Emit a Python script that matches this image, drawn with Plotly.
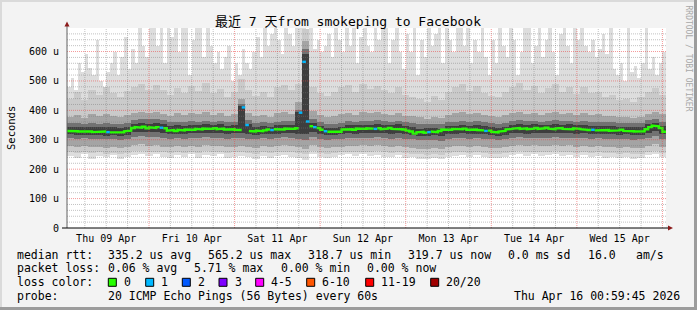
import pandas as pd
import plotly.graph_objects as go

# ---------------- data ----------------
START = pd.Timestamp("2026-04-09 01:00:00")
END = pd.Timestamp("2026-04-16 01:00:00")
HOUR = pd.Timedelta(hours=1)

day_noons = ["2026-04-09 12:00", "2026-04-10 12:00", "2026-04-11 12:00", "2026-04-12 12:00",
             "2026-04-13 12:00", "2026-04-14 12:00", "2026-04-15 12:00"]
day_labels = ["Thu 09 Apr", "Fri 10 Apr", "Sat 11 Apr", "Sun 12 Apr",
              "Mon 13 Apr", "Tue 14 Apr", "Wed 15 Apr"]

y_tick_vals = [0, 100, 200, 300, 400, 500, 600]
y_tick_text = ["0", "100 u", "200 u", "300 u", "400 u", "500 u", "600 u"]

# hourly median rtt (microseconds)
rtt_median = [
    330, 331, 329, 328, 327, 329, 328, 326, 327, 326, 328, 326, 325, 324, 326, 325, 329, 331, 340, 343, 341, 344, 339, 342,
    340, 343, 341, 339, 331, 333, 330, 334, 332, 335, 336, 334, 337, 335, 338, 336, 337, 339, 336, 338, 335, 337, 336, 334,
    333, 410, 350, 330, 328, 331, 329, 332, 335, 333, 336, 337, 335, 338, 336, 337, 339, 392, 565, 362, 346, 343, 340, 334,
    329, 327, 326, 328, 327, 335, 337, 336, 334, 338, 336, 337, 339, 338, 337, 339, 336, 338, 340, 337, 338, 336, 335, 331,
    328, 321, 325, 327, 324, 326, 328, 326, 330, 335, 336, 334, 337, 335, 336, 338, 334, 336, 335, 333, 332, 330, 331, 327,
    325, 328, 330, 335, 337, 338, 340, 337, 339, 336, 338, 340, 337, 339, 341, 338, 336, 339, 340, 337, 338, 336, 339, 337,
    336, 334, 333, 334, 332, 333, 334, 333, 331, 333, 332, 334, 330, 331, 329, 328, 330, 329, 336, 343, 348, 346, 340, 327,
]

# hourly maximum rtt (top of the light smoke)
rtt_max = [
    480, 510, 470, 560, 530, 590, 545, 520, 640, 500, 480, 530, 560, 600, 520, 580, 650, 540, 610, 560, 700, 620, 580, 700,
    700, 620, 700, 560, 700, 650, 700, 600, 680, 700, 520, 640, 700, 690, 580, 700, 620, 560, 600, 540, 580, 620, 500, 560,
    520, 610, 560, 540, 600, 650, 580, 700, 620, 660, 700, 640, 590, 700, 660, 620, 700, 700, 700, 650, 690, 610, 640, 600,
    620, 660, 580, 700, 640, 600, 680, 620, 700, 560, 650, 700, 620, 600, 700, 640, 680, 700, 560, 640, 700, 600, 540, 660,
    600, 700, 520, 640, 580, 700, 620, 660, 700, 560, 700, 640, 600, 700, 680, 620, 700, 560, 640, 600, 700, 580, 520, 640,
    560, 700, 620, 580, 700, 640, 520, 600, 680, 700, 560, 620, 700, 580, 640, 700, 600, 520, 660, 700, 620, 560, 700, 640,
    700, 620, 600, 640, 580, 610, 660, 590, 700, 540, 520, 560, 500, 700, 530, 550, 510, 560, 700, 540, 580, 520, 560, 600,
]

# hourly lost pings (of 20)
loss_pings = [
    0, 0, 0, 0, 0, 0, 0, 0, 0, 0, 0, 1, 0, 0, 0, 0, 0, 0, 0, 0, 0, 0, 0, 0,
    0, 0, 1, 0, 0, 0, 0, 0, 0, 0, 0, 0, 0, 0, 0, 0, 0, 0, 0, 0, 0, 0, 0, 0,
    0, 1, 1, 0, 0, 0, 0, 0, 0, 1, 0, 0, 0, 0, 0, 0, 0, 1, 1, 1, 0, 1, 0, 0,
    1, 0, 0, 0, 0, 0, 0, 0, 0, 0, 0, 0, 0, 0, 1, 0, 0, 0, 0, 0, 0, 0, 0, 0,
    0, 0, 0, 0, 0, 1, 0, 0, 0, 0, 0, 0, 0, 0, 0, 0, 0, 0, 0, 0, 0, 1, 0, 0,
    0, 0, 0, 0, 0, 0, 0, 0, 0, 0, 0, 0, 0, 0, 0, 0, 0, 0, 0, 0, 0, 0, 0, 0,
    0, 0, 0, 1, 0, 0, 0, 0, 0, 0, 0, 0, 0, 0, 0, 0, 0, 0, 0, 0, 0, 0, 0, 0,
]

# 2-hourly smoke percentiles
rtt_min = [
    246, 238, 250, 236, 244, 240, 247, 234, 242, 249, 252, 245,
    250, 243, 237, 248, 241, 251, 239, 247, 244, 250, 238, 242,
    245, 240, 236, 246, 238, 244, 249, 241, 239, 232, 251, 240,
    238, 242, 247, 250, 244, 251, 246, 249, 243, 240, 248, 239,
    240, 236, 233, 239, 235, 242, 246, 249, 243, 247, 241, 238,
    237, 243, 248, 251, 245, 250, 246, 248, 251, 244, 249, 242,
    248, 241, 245, 239, 243, 237, 240, 235, 239, 247, 252, 242,
]
rtt_p05 = [
    258, 255, 260, 254, 257, 252, 256, 253, 255, 261, 263, 259,
    260, 257, 254, 258, 256, 259, 256, 261, 257, 259, 255, 257,
    258, 256, 253, 257, 254, 258, 260, 257, 255, 250, 262, 255,
    252, 254, 257, 259, 257, 260, 258, 261, 257, 255, 259, 255,
    253, 250, 248, 252, 249, 254, 257, 259, 256, 258, 255, 253,
    251, 255, 258, 261, 257, 260, 258, 259, 261, 258, 260, 256,
    259, 256, 257, 255, 256, 253, 254, 251, 253, 258, 263, 256,
]
rtt_p20 = [
    278, 275, 280, 274, 277, 272, 276, 273, 275, 282, 284, 280,
    281, 277, 274, 279, 276, 280, 277, 282, 278, 280, 275, 277,
    279, 276, 273, 278, 274, 279, 281, 278, 276, 270, 283, 275,
    272, 274, 277, 280, 278, 281, 279, 282, 278, 276, 280, 275,
    273, 270, 268, 272, 269, 274, 278, 280, 277, 279, 276, 273,
    271, 275, 279, 282, 278, 281, 279, 280, 282, 279, 281, 277,
    280, 276, 278, 275, 277, 273, 274, 271, 273, 279, 285, 276,
]
rtt_p35 = [
    305, 303, 306, 302, 304, 301, 303, 300, 302, 310, 312, 309,
    308, 305, 303, 306, 304, 307, 305, 308, 306, 307, 304, 305,
    306, 304, 302, 305, 303, 306, 308, 306, 304, 300, 310, 303,
    300, 301, 304, 306, 305, 307, 306, 308, 305, 304, 306, 303,
    301, 299, 298, 300, 297, 302, 305, 306, 304, 305, 303, 301,
    299, 302, 306, 308, 305, 307, 306, 307, 308, 306, 307, 305,
    306, 304, 305, 303, 304, 301, 302, 300, 301, 306, 312, 304,
]
rtt_p45 = [
    318, 316, 317, 315, 316, 314, 316, 313, 316, 325, 328, 326,
    326, 323, 318, 321, 320, 323, 322, 324, 323, 324, 321, 322,
    322, 319, 317, 320, 318, 321, 323, 322, 320, 318, 326, 318,
    315, 316, 319, 322, 321, 323, 322, 324, 322, 321, 323, 319,
    316, 312, 313, 315, 312, 318, 320, 322, 319, 321, 318, 315,
    313, 317, 322, 324, 321, 323, 322, 323, 324, 322, 323, 321,
    322, 320, 321, 319, 320, 317, 318, 316, 317, 322, 330, 318,
]
rtt_p55 = [
    344, 345, 342, 344, 342, 343, 342, 340, 345, 354, 356, 355,
    356, 352, 346, 349, 347, 350, 349, 352, 350, 352, 348, 349,
    415, 355, 345, 347, 344, 349, 351, 350, 395, 590, 357, 348,
    341, 341, 345, 350, 349, 351, 350, 353, 351, 349, 352, 347,
    342, 338, 339, 341, 338, 346, 348, 351, 347, 350, 346, 344,
    341, 345, 350, 352, 349, 352, 349, 351, 353, 350, 352, 349,
    351, 347, 348, 346, 347, 344, 345, 343, 344, 352, 358, 347,
]
rtt_p65 = [
    356, 358, 354, 357, 355, 356, 355, 353, 358, 368, 371, 369,
    370, 366, 360, 362, 359, 363, 361, 364, 362, 365, 360, 362,
    420, 368, 358, 360, 357, 362, 364, 363, 400, 610, 372, 362,
    355, 354, 358, 364, 362, 365, 363, 366, 364, 362, 365, 360,
    356, 354, 352, 355, 353, 360, 362, 364, 361, 363, 360, 358,
    355, 358, 364, 366, 363, 365, 362, 364, 366, 363, 365, 362,
    364, 360, 361, 359, 360, 357, 358, 356, 357, 366, 372, 362,
]
rtt_p80 = [
    378, 384, 375, 386, 380, 388, 382, 377, 384, 392, 396, 390,
    394, 388, 382, 390, 384, 392, 386, 396, 384, 390, 382, 386,
    440, 392, 380, 384, 378, 390, 394, 388, 430, 635, 398, 384,
    378, 382, 388, 392, 384, 396, 390, 394, 388, 384, 392, 382,
    380, 376, 372, 378, 374, 384, 390, 394, 386, 390, 384, 380,
    378, 384, 390, 396, 388, 392, 384, 390, 396, 386, 392, 384,
    392, 384, 386, 380, 382, 376, 378, 374, 378, 388, 396, 386,
]
rtt_p95 = [
    440, 462, 436, 470, 452, 478, 458, 444, 466, 480, 490, 470,
    486, 470, 452, 476, 460, 482, 466, 494, 458, 474, 446, 462,
    505, 470, 448, 462, 444, 478, 486, 470, 490, 675, 480, 458,
    450, 462, 478, 486, 464, 490, 472, 484, 470, 458, 480, 452,
    446, 440, 430, 448, 436, 462, 478, 488, 466, 482, 460, 448,
    444, 462, 480, 492, 470, 484, 458, 476, 490, 462, 480, 454,
    478, 458, 464, 446, 452, 436, 440, 430, 444, 462, 476, 452,
]

loss_colors = {0: "#26ff00", 1: "#00b8ff"}
legend_items = [("0", "#26ff00"), ("1", "#00b8ff"), ("2", "#0059ff"), ("3", "#7e00ff"),
                ("4-5", "#ff00ff"), ("6-10", "#ff5500"), ("11-19", "#ff0000"), ("20/20", "#a10000")]

# ---------------- geometry helpers ----------------
L, T, W, H = 67, 28, 599, 200
FIG_W, FIG_H = 697, 310
BG = "#f3f3f3"
MONO = "DejaVu Sans Mono, Noto Sans CJK SC, monospace"


def fx(px):
    return (px - L) / W


def fy(py):
    return (T + H - py) / H


fig = go.Figure()

# ---------------- smoke ----------------
n_h = len(rtt_max)
hour_centers = [START + (i + 0.5) * HOUR for i in range(n_h)]
fig.add_trace(go.Bar(
    x=hour_centers,
    base=[rtt_min[i // 2] for i in range(n_h)],
    y=[rtt_max[i] - rtt_min[i // 2] for i in range(n_h)],
    width=3600000, marker=dict(color="#dddddd", line=dict(width=0)),
    hoverinfo="skip"))

n_2 = len(rtt_min)
two_centers = [START + (2 * j + 1) * HOUR for j in range(n_2)]
for lo, hi, col in [(rtt_p05, rtt_p95, "#cacaca"),
                    (rtt_p20, rtt_p80, "#a4a4a4"),
                    (rtt_p35, rtt_p65, "#727272"),
                    (rtt_p45, rtt_p55, "#3e3e3e")]:
    fig.add_trace(go.Bar(
        x=two_centers, base=lo, y=[h - l for l, h in zip(lo, hi)],
        width=7200000, marker=dict(color=col, line=dict(width=0)),
        hoverinfo="skip"))

# ---------------- median line coloured by loss ----------------
for lvl, col in loss_colors.items():
    xs, ys = [], []
    prev = False
    for i in range(n_h):
        if loss_pings[i] == lvl:
            xs += [START + i * HOUR, START + (i + 1) * HOUR]
            ys += [rtt_median[i], rtt_median[i]]
            prev = True
            if lvl != 0:          # loss marks are drawn as separate steps
                xs.append(None)
                ys.append(None)
                prev = False
        elif prev:
            xs.append(None)
            ys.append(None)
            prev = False
    fig.add_trace(go.Scatter(x=xs, y=ys, mode="lines", line=dict(color=col, width=2.4),
                             connectgaps=False, hoverinfo="skip"))

# ---------------- grid (drawn above the smoke, like rrdtool) ----------------
shapes = []
t = START.ceil("6h")
while t < END:
    major = t.hour == 0
    shapes.append(dict(type="line", xref="x", yref="paper", x0=t, x1=t, y0=0, y1=1, layer="above",
                       line=dict(color="rgba(235,70,70,0.55)" if major else "rgba(120,120,120,0.45)",
                                 width=1, dash="1px,1px")))
    t += pd.Timedelta(hours=6)
for v in range(20, 680, 20):
    major = v % 100 == 0
    shapes.append(dict(type="line", xref="paper", yref="y", x0=0, x1=1, y0=v, y1=v, layer="above",
                       line=dict(color="rgba(235,70,70,0.55)" if major else "rgba(120,120,120,0.45)",
                                 width=1, dash="1px,1px")))

# axes lines + arrows
shapes.append(dict(type="line", xref="paper", yref="paper", x0=fx(67), x1=fx(67), y0=fy(228), y1=fy(24),
                   line=dict(color="#606060", width=1), layer="above"))
shapes.append(dict(type="line", xref="paper", yref="paper", x0=fx(62), x1=fx(669), y0=fy(228), y1=fy(228),
                   line=dict(color="#000000", width=1), layer="above"))
shapes.append(dict(type="path", xref="paper", yref="paper", layer="above",
                   path=f"M {fx(64.5)} {fy(26.5)} L {fx(69.5)} {fy(26.5)} L {fx(67)} {fy(21.5)} Z",
                   fillcolor="#8b1a1a", line=dict(width=0)))
shapes.append(dict(type="path", xref="paper", yref="paper", layer="above",
                   path=f"M {fx(668)} {fy(225.5)} L {fx(668)} {fy(230.5)} L {fx(673)} {fy(228)} Z",
                   fillcolor="#8b1a1a", line=dict(width=0)))

# 3-D frame around the image
shapes.append(dict(type="rect", xref="paper", yref="paper", x0=fx(0), x1=fx(697), y0=fy(0), y1=fy(2),
                   fillcolor="#dadada", line=dict(width=0)))
shapes.append(dict(type="rect", xref="paper", yref="paper", x0=fx(0), x1=fx(2), y0=fy(0), y1=fy(310),
                   fillcolor="#dadada", line=dict(width=0)))
shapes.append(dict(type="rect", xref="paper", yref="paper", x0=fx(694), x1=fx(697), y0=fy(0), y1=fy(310),
                   fillcolor="#9c9c9c", line=dict(width=0)))
shapes.append(dict(type="rect", xref="paper", yref="paper", x0=fx(0), x1=fx(697), y0=fy(307), y1=fy(310),
                   fillcolor="#9c9c9c", line=dict(width=0)))

# ---------------- texts ----------------
ann = []


def txt(s, x, y, size=11.5, anchor="left", color="#000000", angle=0):
    ann.append(dict(text=s, x=fx(x), y=fy(y), xref="paper", yref="paper", showarrow=False,
                    xanchor=anchor, yanchor="middle", textangle=angle, borderpad=0,
                    font=dict(family=MONO, size=size, color=color)))


txt("最近 7 天from smokeping to Facebook", 347.5, 21.5, size=13, anchor="center")
txt("Seconds", 11, 128, size=10.5, anchor="center", angle=-90)
txt("RRDTOOL / TOBI OETIKER", 688, 58.5, size=8, anchor="center", color="#a8a8a8", angle=90)

y1, y2, y3, y4 = 254.7, 268.3, 282.3, 296.0
txt("median rtt:", 16, y1)
txt("335.2 us avg", 107.3, y1)
txt("565.2 us max", 207.3, y1)
txt("318.7 us min", 307.3, y1)
txt("319.7 us now", 407.3, y1)
txt("0.0 ms sd", 507.3, y1)
txt("16.0", 586.5, y1)
txt("am/s", 635, y1)

txt("packet loss:", 16, y2)
txt("0.06 % avg", 107.3, y2)
txt("5.71 % max", 193.4, y2)
txt("0.00 % min", 279.5, y2)
txt("0.00 % now", 365.6, y2)

txt("loss color:", 16, y3)
box_x = [108.3, 145.7, 182.3, 219.0, 255.7, 306.7, 365.7, 430.7]
for (lab, col), bx in zip(legend_items, box_x):
    shapes.append(dict(type="rect", xref="paper", yref="paper", x0=fx(bx), x1=fx(bx + 8),
                       y0=fy(y3 + 4), y1=fy(y3 - 4), fillcolor=col, line=dict(color="#000000", width=1)))
    txt(lab, bx + 14.5, y3)

txt("probe:", 16, y4)
txt("20 ICMP Echo Pings (56 Bytes) every 60s", 107.3, y4)
txt("Thu Apr 16 00:59:45 2026", 513.3, y4)

fig.update_layout(
    width=FIG_W, height=FIG_H,
    margin=dict(l=L, r=FIG_W - L - W, t=T, b=FIG_H - T - H, pad=0),
    paper_bgcolor=BG, plot_bgcolor="#ffffff",
    barmode="overlay", bargap=0, showlegend=False,
    font=dict(family=MONO, size=10, color="#000000"),
    shapes=shapes, annotations=ann,
    xaxis=dict(type="date", range=[START, END], showgrid=False, zeroline=False, showline=False,
               tickvals=day_noons, ticktext=day_labels, ticks="outside", ticklen=1, tickcolor=BG,
               tickfont=dict(family=MONO, size=10, color="#000000"), fixedrange=True),
    yaxis=dict(range=[0, 680], showgrid=False, zeroline=False, showline=False,
               tickvals=y_tick_vals, ticktext=y_tick_text, ticks="outside", ticklen=5, tickcolor=BG,
               tickfont=dict(family=MONO, size=10, color="#000000"), fixedrange=True),
)

fig.write_html("out.html")
